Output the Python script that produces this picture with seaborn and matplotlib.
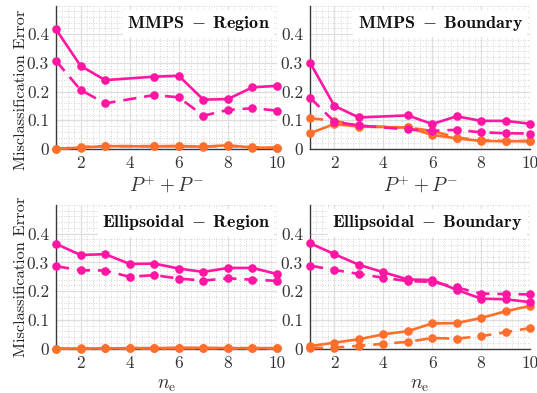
import matplotlib
matplotlib.use("Agg")
import matplotlib.pyplot as plt
from matplotlib.ticker import MultipleLocator, FixedLocator, FixedFormatter
import seaborn as sns
import pandas as pd

# ---- data -------------------------------------------------------------
x_mmps = [1, 2, 3, 5, 6, 7, 8, 9, 10]
x_ell = [1, 2, 3, 4, 5, 6, 7, 8, 9, 10]

mmps_region_solid_m = [0.417, 0.290, 0.240, 0.252, 0.255, 0.172, 0.174, 0.215, 0.220]
mmps_region_dash_m = [0.307, 0.206, 0.159, 0.188, 0.180, 0.116, 0.136, 0.142, 0.134]
mmps_region_solid_o = [0.000, 0.005, 0.010, 0.009, 0.010, 0.008, 0.013, 0.005, 0.004]
mmps_region_dash_o = [0.000, 0.007, 0.010, 0.010, 0.010, 0.009, 0.010, 0.006, 0.004]

mmps_bound_solid_m = [0.301, 0.150, 0.110, 0.117, 0.087, 0.114, 0.098, 0.098, 0.088]
mmps_bound_dash_m = [0.179, 0.095, 0.082, 0.068, 0.063, 0.067, 0.058, 0.055, 0.054]
mmps_bound_solid_o = [0.055, 0.087, 0.078, 0.075, 0.049, 0.037, 0.028, 0.027, 0.027]
mmps_bound_dash_o = [0.107, 0.099, 0.080, 0.075, 0.063, 0.040, 0.030, 0.028, 0.028]

ell_region_solid_m = [0.365, 0.326, 0.329, 0.295, 0.296, 0.279, 0.267, 0.281, 0.281, 0.260]
ell_region_dash_m = [0.287, 0.273, 0.272, 0.250, 0.256, 0.244, 0.237, 0.245, 0.240, 0.236]
ell_region_solid_o = [0.000, 0.001, 0.001, 0.002, 0.002, 0.003, 0.003, 0.002, 0.002, 0.002]
ell_region_dash_o = [0.000, 0.000, 0.001, 0.001, 0.001, 0.002, 0.002, 0.001, 0.001, 0.001]

ell_bound_solid_m = [0.367, 0.329, 0.292, 0.266, 0.241, 0.239, 0.205, 0.174, 0.172, 0.162]
ell_bound_dash_m = [0.289, 0.274, 0.260, 0.247, 0.235, 0.233, 0.213, 0.192, 0.190, 0.189]
ell_bound_solid_o = [0.009, 0.021, 0.033, 0.050, 0.061, 0.088, 0.089, 0.107, 0.130, 0.149]
ell_bound_dash_o = [0.002, 0.004, 0.010, 0.017, 0.024, 0.037, 0.035, 0.044, 0.057, 0.072]

titles = ["MMPS - Region", "MMPS - Boundary", "Ellipsoidal - Region", "Ellipsoidal - Boundary"]
y_ticks = [0, 0.1, 0.2, 0.3, 0.4]
y_ticklabels = ["0", "0.1", "0.2", "0.3", "0.4"]
x_ticks = [2, 4, 6, 8, 10]
x_ticklabels = ["2", "4", "6", "8", "10"]
xlabel_top = r"$P^{+} + P^{-}$"
xlabel_bottom = r"$n_\mathrm{e}$"
ylabel = "Misclassification Error"

MAGENTA = "#FF16A2"
ORANGE = "#FF6E2A"

# ---- style ------------------------------------------------------------
sns.set_theme(style="whitegrid")
plt.rcParams["font.family"] = ["serif"]
plt.rcParams["font.serif"] = ["cmr10", "DejaVu Serif"]
plt.rcParams["mathtext.fontset"] = "cm"
plt.rcParams["axes.formatter.use_mathtext"] = True

fig = plt.figure(figsize=(5.37, 3.93), dpi=100)
W, H = 537, 393
def px_axes(l, r, top, bot):
    return fig.add_axes([l / W, 1 - bot / H, (r - l) / W, (bot - top) / H])

axes = [
    px_axes(56, 277, 5.5, 149),
    px_axes(310, 530, 5.5, 149),
    px_axes(56, 277, 205, 348.7),
    px_axes(310, 530, 205, 348.7),
]

panels = [
    (x_mmps, [mmps_region_solid_m, mmps_region_dash_m, mmps_region_solid_o, mmps_region_dash_o]),
    (x_mmps, [mmps_bound_solid_m, mmps_bound_dash_m, mmps_bound_solid_o, mmps_bound_dash_o]),
    (x_ell, [ell_region_solid_m, ell_region_dash_m, ell_region_solid_o, ell_region_dash_o]),
    (x_ell, [ell_bound_solid_m, ell_bound_dash_m, ell_bound_solid_o, ell_bound_dash_o]),
]
styles = [(MAGENTA, "-"), (MAGENTA, (0, (5, 3))), (ORANGE, "-"), (ORANGE, (0, (5, 3)))]

for i, (ax, (xs, series), title) in enumerate(zip(axes, panels, titles)):
    ax.set_facecolor("white")
    # dashed first so solid lines sit on top, orange beneath magenta
    for k in [3, 2, 1, 0]:
        col, ls = styles[k]
        df = pd.DataFrame({"x": xs, "y": series[k]})
        sns.lineplot(data=df, x="x", y="y", ax=ax, color=col, linestyle=ls,
                     linewidth=1.9, marker="o", markersize=6.2,
                     markeredgewidth=0, clip_on=False, zorder=3)
    ax.set_xlim(1, 10)
    ax.set_ylim(0, 0.5)
    ax.xaxis.set_major_locator(FixedLocator(x_ticks))
    ax.xaxis.set_major_formatter(FixedFormatter(x_ticklabels))
    ax.yaxis.set_major_locator(FixedLocator(y_ticks))
    ax.yaxis.set_major_formatter(FixedFormatter(y_ticklabels))
    ax.xaxis.set_minor_locator(MultipleLocator(0.25))
    ax.yaxis.set_minor_locator(MultipleLocator(0.02))
    ax.grid(True, which="major", color="#dedede", linewidth=0.9, linestyle="-")
    ax.grid(True, which="minor", color="#c8c8c8", linewidth=0.6, linestyle=(0, (1, 2)))
    ax.set_axisbelow(True)
    for s in ["top", "right"]:
        ax.spines[s].set_visible(False)
    for s in ["left", "bottom"]:
        ax.spines[s].set_color("#3a3a3a")
        ax.spines[s].set_linewidth(1.0)
        ax.spines[s].set_zorder(2)
    ax.tick_params(axis="both", which="major", direction="in", length=2.5,
                   width=0.6, colors="#3a3a3a", labelcolor="#333333",
                   labelsize=12.5, pad=5)
    ax.tick_params(axis="both", which="minor", length=0)
    ax.set_xlabel(xlabel_top if i < 2 else xlabel_bottom, fontsize=14,
                  color="#333333")
    ax.xaxis.set_label_coords(0.5, -0.175 if i < 2 else -0.19)
    if i % 2 == 0:
        ax.set_ylabel(ylabel, fontsize=11.8, color="#222222")
        yc = (149 - 90) / 143.5 if i == 0 else 0.5
        ax.yaxis.set_label_coords(-0.128, yc)
    else:
        ax.set_ylabel("")
    name, kind = title.split(" - ")
    ax.text(0.968, 0.875, r"$\mathbf{%s}\;-\;\mathbf{%s}$" % (name, kind),
            transform=ax.transAxes, ha="right", va="center",
            fontsize=13, color="#111111", zorder=5,
            bbox=dict(facecolor="white", edgecolor="none", pad=3.0))

fig.savefig("out.png", dpi=100)
